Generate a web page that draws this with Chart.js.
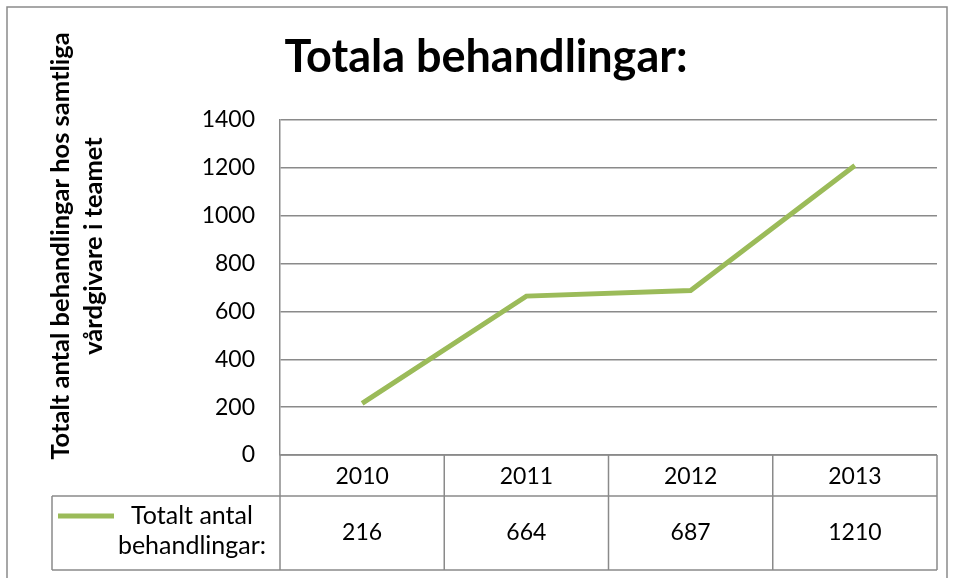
<!DOCTYPE html>
<html>
<head>
<meta charset="utf-8">
<script src="https://cdn.jsdelivr.net/npm/chart.js@4/dist/chart.umd.min.js"></script>
<style>
  body { margin: 0; background: #fff; }
  canvas { display: block; }
</style>
</head>
<body>
<canvas id="chart" width="954" height="578"></canvas>
<script>
const years = ['2010', '2011', '2012', '2013'];
const treatments = [216, 664, 687, 1210];
const seriesLabel = ['Totalt antal', 'behandlingar:'];
const chartTitle = 'Totala behandlingar:';
const yAxisTitle = ['Totalt antal behandlingar hos samtliga', 'vårdgivare i teamet'];
const yMin = 0;
const yMax = 1400;
const yStep = 200;

const lineColor = '#9BBB59';
const gridColor = '#8a8a8a';
const font = 'Lato, "Open Sans", sans-serif';

// outer frame of the chart object
const framePlugin = {
    id: 'frame',
    beforeDraw(chart) {
        const ctx = chart.ctx;
        ctx.save();
        ctx.fillStyle = '#fff';
        ctx.fillRect(0, 0, chart.width, chart.height);
        ctx.strokeStyle = gridColor;
        ctx.lineWidth = 1.5;
        ctx.strokeRect(7, 7, 940, 600);
        ctx.restore();
    }
};

// rotated y axis title, centred on the whole chart height like Excel does
const axisTitlePlugin = {
    id: 'axisTitle',
    afterDraw(chart) {
        const ctx = chart.ctx;
        ctx.save();
        ctx.translate(61, 246);
        ctx.rotate(-Math.PI / 2);
        ctx.font = 'bold 25.5px ' + font;
        ctx.fillStyle = '#000';
        ctx.textAlign = 'center';
        ctx.textBaseline = 'middle';
        yAxisTitle.forEach((line, i) => ctx.fillText(line, 0, i * 33));
        ctx.restore();
    }
};

// data table under the plot area
const dataTablePlugin = {
    id: 'dataTable',
    afterDraw(chart) {
        const ctx = chart.ctx;
        const area = chart.chartArea;
        const x = chart.scales.x;
        const colW = x.getPixelForValue(1) - x.getPixelForValue(0);
        const top = area.bottom;
        const mid = top + 41;
        const bottom = top + 115;
        const legendLeft = 52;

        ctx.save();
        ctx.strokeStyle = gridColor;
        ctx.lineWidth = 1.5;
        ctx.beginPath();
        ctx.moveTo(area.left, top); ctx.lineTo(area.right, top);
        ctx.moveTo(legendLeft, mid); ctx.lineTo(area.right, mid);
        ctx.moveTo(legendLeft, bottom); ctx.lineTo(area.right, bottom);
        ctx.moveTo(legendLeft, mid); ctx.lineTo(legendLeft, bottom);
        ctx.moveTo(area.left, top); ctx.lineTo(area.left, bottom);
        years.forEach((y, i) => {
            const r = x.getPixelForValue(i) + colW / 2;
            ctx.moveTo(r, top); ctx.lineTo(r, bottom);
        });
        ctx.stroke();

        ctx.fillStyle = '#000';
        ctx.font = '23px ' + font;
        ctx.textAlign = 'center';
        ctx.textBaseline = 'middle';
        years.forEach((y, i) => {
            const cx = x.getPixelForValue(i);
            ctx.fillText(y, cx, (top + mid) / 2 + 1);
            ctx.fillText(String(treatments[i]), cx, (mid + bottom) / 2);
        });

        // legend key + series name
        ctx.strokeStyle = lineColor;
        ctx.lineWidth = 5;
        ctx.beginPath();
        ctx.moveTo(58, mid + 20); ctx.lineTo(114, mid + 20);
        ctx.stroke();
        ctx.font = '25px ' + font;
        seriesLabel.forEach((line, i) => ctx.fillText(line, 192, mid + 20 + i * 30));
        ctx.restore();
    }
};

new Chart(document.getElementById('chart'), {
    type: 'line',
    data: {
        labels: years,
        datasets: [{
            label: seriesLabel.join(' '),
            data: treatments,
            borderColor: lineColor,
            borderWidth: 5,
            pointRadius: 0,
            tension: 0
        }]
    },
    options: {
        responsive: false,
        animation: false,
        layout: {
            padding: { left: 35, right: 17, top: 0, bottom: 123 }
        },
        plugins: {
            legend: { display: false },
            tooltip: { enabled: false },
            title: {
                display: true,
                text: chartTitle,
                color: '#000',
                font: { family: font, size: 45, weight: 'bold', lineHeight: 1.2 },
                padding: { top: 30, bottom: 36 }
            }
        },
        scales: {
            x: {
                display: false,
                offset: true
            },
            y: {
                min: yMin,
                max: yMax,
                afterFit: (scale) => { scale.width = 245; },
                ticks: {
                    stepSize: yStep,
                    color: '#000',
                    padding: 25,
                    font: { family: font, size: 23 },
                    callback: (v) => String(v)
                },
                grid: {
                    color: gridColor,
                    lineWidth: 1.5,
                    drawTicks: false
                },
                border: { color: gridColor, width: 1.5 }
            }
        }
    },
    plugins: [framePlugin, axisTitlePlugin, dataTablePlugin]
});
</script>
</body>
</html>
